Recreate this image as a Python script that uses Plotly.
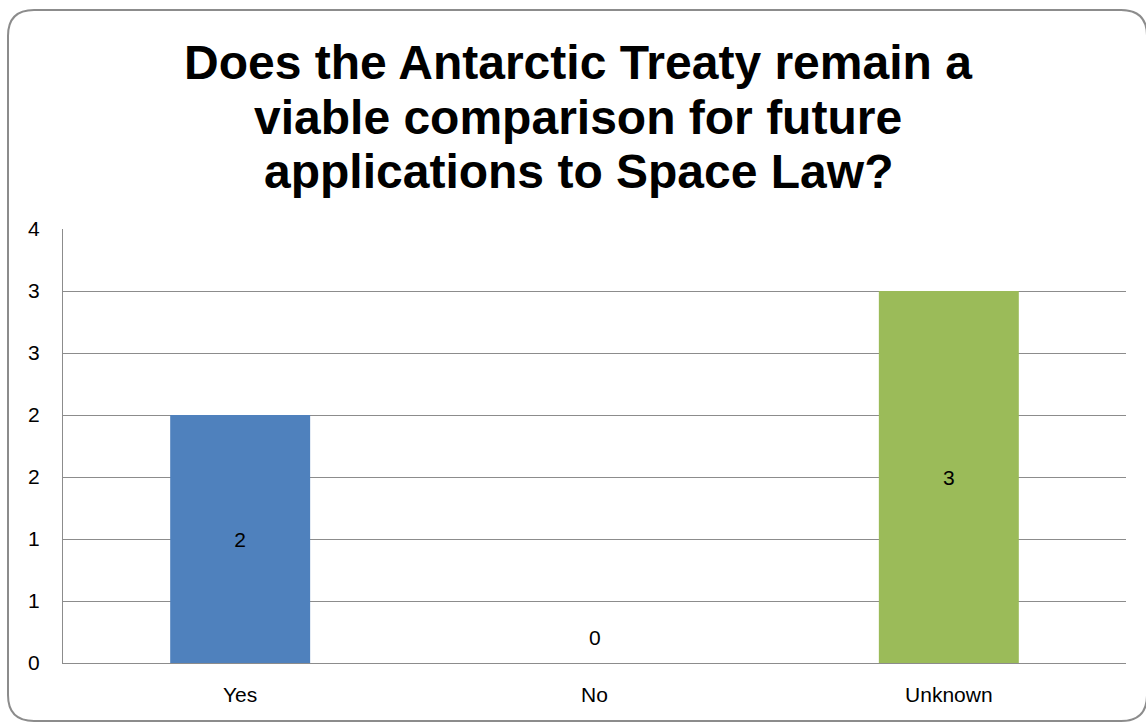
import plotly.graph_objects as go

categories = ["Yes", "No", "Unknown"]
values = [2, 0, 3]
bar_colors = ["#4F81BD", "#4F81BD", "#9BBB59"]
ytick_vals = [0, 0.5, 1, 1.5, 2, 2.5, 3, 3.5]
ytick_text = ["0", "1", "1", "2", "2", "3", "3", "4"]
title_lines = ["Does the Antarctic Treaty remain a",
               "viable comparison for future",
               "applications to Space Law?"]

W, H = 1146, 724
L, R, T, B = 63, 20, 229, 61
pw, ph = W - L - R, H - T - B

def px(x):
    return (x - L) / pw

def py(y):
    return (H - B - y) / ph

# rounded outer border path (pixel -> paper)
x0, x1, y0, y1, r = 8, 1147, 10, 721, 26
pts = [
    ("M", [(x0 + r, y0)]),
    ("L", [(x1 - r, y0)]),
    ("Q", [(x1, y0), (x1, y0 + r)]),
    ("L", [(x1, y1 - r)]),
    ("Q", [(x1, y1), (x1 - r, y1)]),
    ("L", [(x0 + r, y1)]),
    ("Q", [(x0, y1), (x0, y1 - r)]),
    ("L", [(x0, y0 + r)]),
    ("Q", [(x0, y0), (x0 + r, y0)]),
]
path = ""
for cmd, ps in pts:
    path += cmd + " " + " ".join(f"{px(a):.5f},{py(b):.5f}" for a, b in ps) + " "
path += "Z"

FONT = "Liberation Sans, Arial"

fig = go.Figure()
fig.add_trace(go.Bar(
    x=categories,
    y=values,
    marker=dict(color=bar_colors, line=dict(width=0)),
    text=[str(v) if v > 0 else "" for v in values],
    textposition="inside",
    insidetextanchor="middle",
    textfont=dict(family=FONT, size=21, color="#000000"),
    hoverinfo="skip",
))

annotations = []
for i, line in enumerate(title_lines):
    annotations.append(dict(
        text=line, x=px(578), y=py(62 + 55 * i), xref="paper", yref="paper",
        xanchor="center", yanchor="middle", showarrow=False,
        font=dict(family=FONT, size=48, color="#000000", weight="bold"),
    ))
# label for zero-height bars, placed just above the baseline
for c, v in zip(categories, values):
    if v == 0:
        annotations.append(dict(
            text=str(v), x=c, y=v, xref="x", yref="y",
            xanchor="center", yanchor="middle", yshift=26, showarrow=False,
            font=dict(family=FONT, size=21, color="#000000"),
        ))

fig.update_layout(
    width=W, height=H,
    margin=dict(l=L, r=R, t=T, b=B),
    paper_bgcolor="white",
    plot_bgcolor="white",
    bargap=0.605,
    showlegend=False,
    font=dict(family=FONT, size=21, color="#000000"),
    annotations=annotations,
    shapes=[dict(type="path", path=path, xref="paper", yref="paper",
                 line=dict(color="#8C8C8C", width=2), fillcolor="rgba(0,0,0,0)", layer="below")],
)

fig.update_yaxes(
    range=[0, 3.5],
    tickvals=ytick_vals,
    ticktext=ytick_text,
    showgrid=True,
    gridcolor="#8C8C8C",
    gridwidth=1,
    showline=True,
    linecolor="#8C8C8C",
    linewidth=1,
    zeroline=False,
    ticks="",
    ticklabelstandoff=18,
    tickfont=dict(size=21, color="#000000"),
    fixedrange=True,
)
fig.update_xaxes(
    showline=True,
    linecolor="#8C8C8C",
    linewidth=1,
    ticks="",
    ticklabelstandoff=13,
    tickfont=dict(size=21, color="#000000"),
    showgrid=False,
    fixedrange=True,
)

fig.write_html("out.html", config={"displayModeBar": False},
               post_script="document.body.style.margin='0';document.body.style.overflow='hidden';")
